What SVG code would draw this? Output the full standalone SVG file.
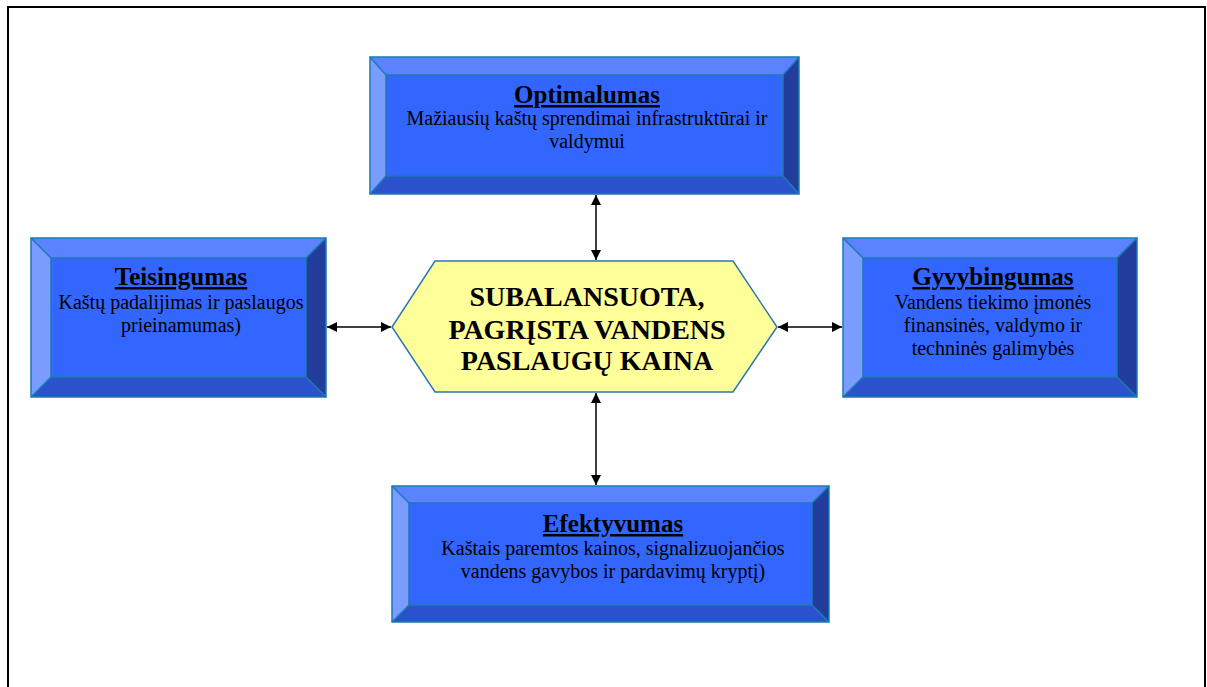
<svg xmlns="http://www.w3.org/2000/svg" width="1207" height="687" viewBox="0 0 1207 687">
<style>
.top{fill:#5B82FF}.left{fill:#7A9BFF}.face{fill:#3366FF}.right{fill:#223D9C}.bot{fill:#2B52CC}
.out{fill:none;stroke:#1C7BB0;stroke-width:1.5}
.ttl{font-family:"Liberation Serif","Times New Roman",serif;font-weight:bold;font-size:25px;text-decoration:underline;text-anchor:middle;fill:#000}
.body{font-family:"Liberation Serif","Times New Roman",serif;font-size:20px;text-anchor:middle;fill:#000}
.ctr{font-family:"Liberation Serif","Times New Roman",serif;font-weight:bold;font-size:28px;text-anchor:middle;fill:#000}
.conn{stroke:#000;stroke-width:1.5;fill:none}
</style>
<defs>
<marker id="ah" viewBox="0 0 10 10" refX="10" refY="5" markerWidth="10" markerHeight="10" markerUnits="userSpaceOnUse" orient="auto-start-reverse">
<path d="M0,0 L10,5 L0,10 Z" fill="#000"/>
</marker>
</defs>
<rect width="1207" height="687" fill="#fff"/>
<path d="M8,690 V7 H1205 V690" fill="none" stroke="#000" stroke-width="2"/>

<g id="connectors">
<line class="conn" x1="596" y1="195" x2="596" y2="260" marker-start="url(#ah)" marker-end="url(#ah)"/>
<line class="conn" x1="596" y1="393" x2="596" y2="485" marker-start="url(#ah)" marker-end="url(#ah)"/>
<line class="conn" x1="327" y1="327" x2="391" y2="327" marker-start="url(#ah)" marker-end="url(#ah)"/>
<line class="conn" x1="778" y1="327" x2="842" y2="327" marker-start="url(#ah)" marker-end="url(#ah)"/>
</g>

<g id="optimalumas">
<polygon class="top" points="370,57 799,57 783,75 386,75"/>
<polygon class="left" points="370,57 386,75 386,176 370,194"/>
<polygon class="right" points="799,57 799,194 783,176 783,75"/>
<polygon class="bot" points="370,194 386,176 783,176 799,194"/>
<rect class="face" x="386" y="75" width="397" height="101"/>
<rect class="out" x="370" y="57" width="429" height="137"/>
<rect class="out" x="386" y="75" width="397" height="101" stroke-width="1"/>
<path class="out" d="M370,57 L386,75 M799,57 L783,75 M370,194 L386,176 M799,194 L783,176" stroke-width="1"/>
<text class="ttl" x="587" y="103">Optimalumas</text>
<text class="body" x="587" y="125">Mažiausių kaštų sprendimai infrastruktūrai ir</text>
<text class="body" x="587" y="148">valdymui</text>
</g>

<g id="teisingumas">
<polygon class="top" points="31,238 326,238 306,258 51,258"/>
<polygon class="left" points="31,238 51,258 51,377 31,397"/>
<polygon class="right" points="326,238 326,397 306,377 306,258"/>
<polygon class="bot" points="31,397 51,377 306,377 326,397"/>
<rect class="face" x="51" y="258" width="255" height="119"/>
<rect class="out" x="31" y="238" width="295" height="159"/>
<rect class="out" x="51" y="258" width="255" height="119" stroke-width="1"/>
<path class="out" d="M31,238 L51,258 M326,238 L306,258 M31,397 L51,377 M326,397 L306,377" stroke-width="1"/>
<text class="ttl" x="181" y="285">Teisingumas</text>
<text class="body" x="181" y="309">Kaštų padalijimas ir paslaugos</text>
<text class="body" x="181" y="332">prieinamumas)</text>
</g>

<g id="gyvybingumas">
<polygon class="top" points="843,238 1137,238 1117,258 863,258"/>
<polygon class="left" points="843,238 863,258 863,377 843,397"/>
<polygon class="right" points="1137,238 1137,397 1117,377 1117,258"/>
<polygon class="bot" points="843,397 863,377 1117,377 1137,397"/>
<rect class="face" x="863" y="258" width="254" height="119"/>
<rect class="out" x="843" y="238" width="294" height="159"/>
<rect class="out" x="863" y="258" width="254" height="119" stroke-width="1"/>
<path class="out" d="M843,238 L863,258 M1137,238 L1117,258 M843,397 L863,377 M1137,397 L1117,377" stroke-width="1"/>
<text class="ttl" x="993" y="285">Gyvybingumas</text>
<text class="body" x="993" y="309">Vandens tiekimo įmonės</text>
<text class="body" x="993" y="332">finansinės, valdymo ir</text>
<text class="body" x="993" y="355">techninės galimybės</text>
</g>

<g id="efektyvumas">
<polygon class="top" points="392,486 829,486 812,503 409,503"/>
<polygon class="left" points="392,486 409,503 409,605 392,622"/>
<polygon class="right" points="829,486 829,622 812,605 812,503"/>
<polygon class="bot" points="392,622 409,605 812,605 829,622"/>
<rect class="face" x="409" y="503" width="403" height="102"/>
<rect class="out" x="392" y="486" width="437" height="136"/>
<rect class="out" x="409" y="503" width="403" height="102" stroke-width="1"/>
<path class="out" d="M392,486 L409,503 M829,486 L812,503 M392,622 L409,605 M829,622 L812,605" stroke-width="1"/>
<text class="ttl" x="613" y="532">Efektyvumas</text>
<text class="body" x="613" y="555">Kaštais paremtos kainos, signalizuojančios</text>
<text class="body" x="613" y="578">vandens gavybos ir pardavimų kryptį)</text>
</g>

<g id="center">
<polygon points="435,261 733,261 777,327 733,392 435,392 392,327" fill="#FFFF99" stroke="#2E75B6" stroke-width="1.5"/>
<text class="ctr" x="587" y="306">SUBALANSUOTA,</text>
<text class="ctr" x="587" y="339">PAGRĮSTA VANDENS</text>
<text class="ctr" x="587" y="370">PASLAUGŲ KAINA</text>
</g>
</svg>
